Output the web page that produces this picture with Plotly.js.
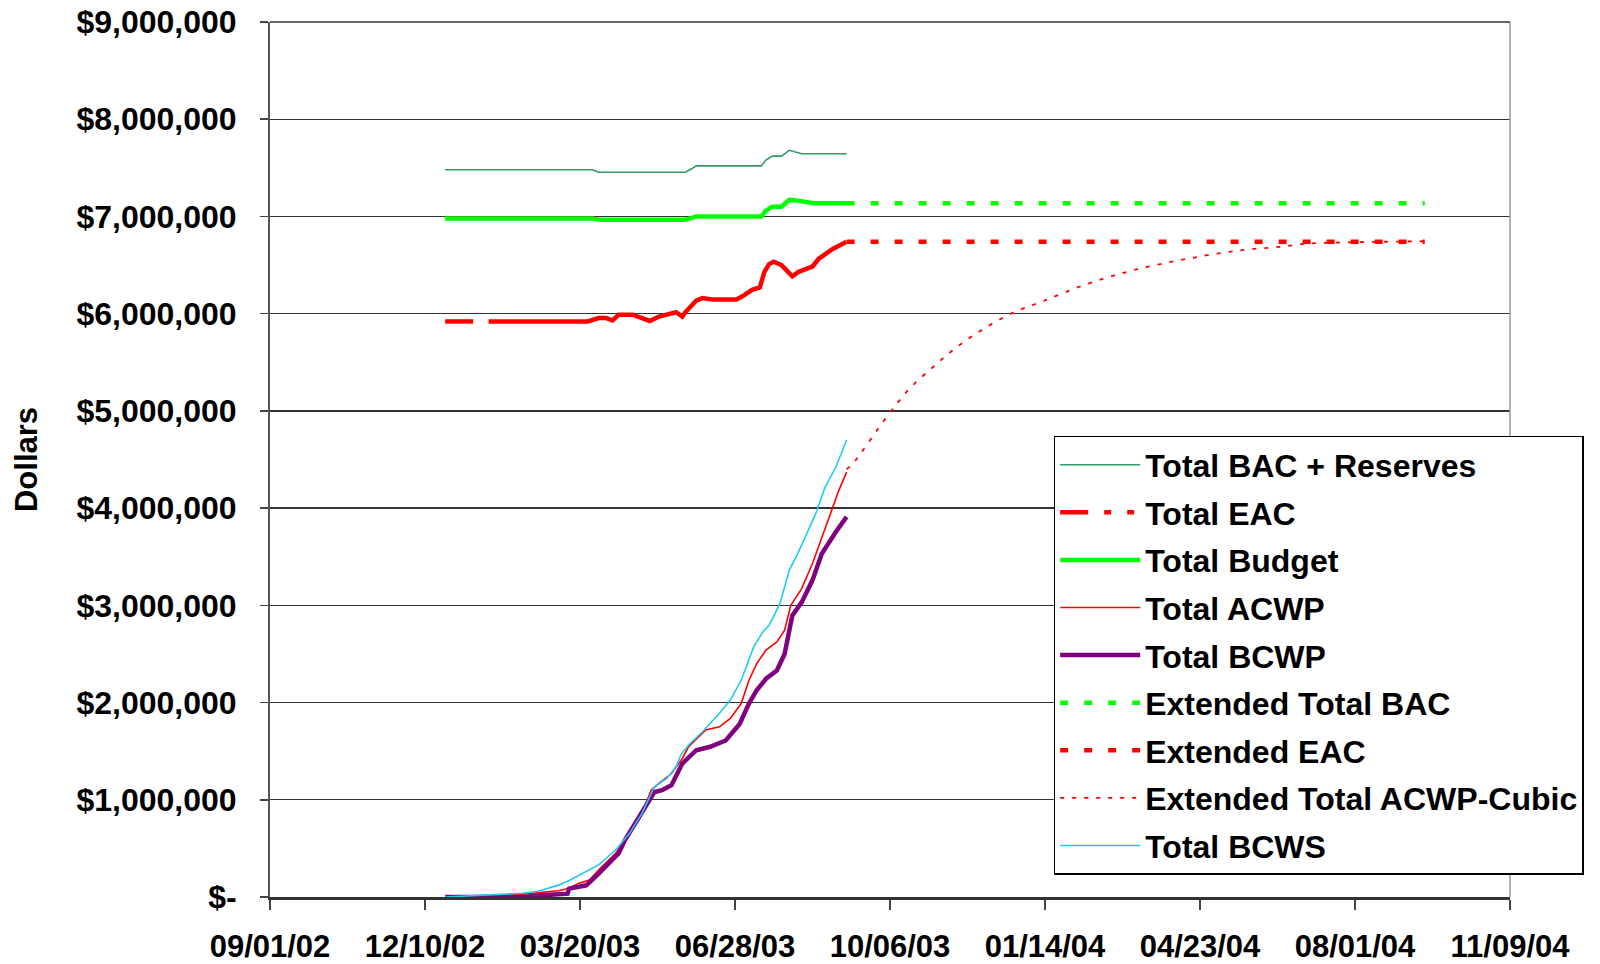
<!DOCTYPE html>
<html><head><meta charset="utf-8">
<script src="https://cdn.plot.ly/plotly-3.0.1.min.js"></script>
<style>html,body{margin:0;padding:0;background:#fff}#chart{width:1600px;height:964px}</style>
</head><body><div id="chart"></div>
<script>
// ---- data ----
const xTickDates  = ['2002-09-01','2002-12-10','2003-03-20','2003-06-28','2003-10-06','2004-01-14','2004-04-23','2004-08-01','2004-11-09'];
const xTickLabels = ['09/01/02','12/10/02','03/20/03','06/28/03','10/06/03','01/14/04','04/23/04','08/01/04','11/09/04'];
const yTickValues = [0,1000000,2000000,3000000,4000000,5000000,6000000,7000000,8000000,9000000];
const yTickLabels = ['$-','$1,000,000','$2,000,000','$3,000,000','$4,000,000','$5,000,000','$6,000,000','$7,000,000','$8,000,000','$9,000,000'];

const bacDates   = ['2002-12-23','2003-03-28','2003-04-01','2003-05-27','2003-05-31','2003-06-03','2003-07-15','2003-07-18','2003-07-22','2003-07-28','2003-08-02','2003-08-10','2003-09-08'];
const bacResValues = [7480000,7480000,7455000,7455000,7490000,7520000,7520000,7580000,7620000,7620000,7680000,7645000,7645000];

const budgetDates  = ['2002-12-23','2003-03-28','2003-04-01','2003-05-27','2003-05-31','2003-06-03','2003-07-15','2003-07-18','2003-07-22','2003-07-28','2003-08-02','2003-08-06','2003-08-18','2003-09-08'];
const budgetValues = [6980000,6980000,6965000,6965000,6985000,7000000,7000000,7060000,7100000,7100000,7170000,7165000,7135000,7135000];

const eacDates  = ['2002-12-23','2003-01-20','2003-03-25','2003-04-01','2003-04-06','2003-04-10','2003-04-14','2003-04-23','2003-05-04','2003-05-10','2003-05-21','2003-05-25','2003-05-27','2003-06-03','2003-06-07','2003-06-13','2003-06-29','2003-07-04','2003-07-09','2003-07-14','2003-07-17','2003-07-20','2003-07-23','2003-07-28','2003-07-31','2003-08-04','2003-08-08','2003-08-17','2003-08-21','2003-08-30','2003-09-08'];
const eacValues = [5920000,5920000,5920000,5955000,5955000,5930000,5990000,5990000,5925000,5970000,6015000,5970000,6015000,6135000,6160000,6145000,6145000,6190000,6245000,6270000,6430000,6510000,6535000,6500000,6450000,6385000,6430000,6485000,6565000,6665000,6740000];

const acwpDates  = ['2002-12-23','2003-02-11','2003-03-06','2003-03-13','2003-03-19','2003-03-26','2003-04-03','2003-04-12','2003-04-18','2003-04-27','2003-05-05','2003-05-10','2003-05-18','2003-05-25','2003-05-29','2003-06-09','2003-06-18','2003-06-25','2003-07-02','2003-07-07','2003-07-12','2003-07-18','2003-07-25','2003-07-30','2003-08-03','2003-08-10','2003-08-17','2003-08-23','2003-08-30','2003-09-03','2003-09-08'];
const acwpValues = [0,30000,65000,90000,140000,175000,310000,450000,585000,790000,1100000,1170000,1270000,1425000,1545000,1717000,1750000,1836000,1990000,2230000,2400000,2540000,2624000,2744000,3000000,3172000,3430000,3700000,4010000,4183000,4370000];

const bcwpDates  = ['2002-12-23','2003-02-11','2003-02-23','2003-03-12','2003-03-13','2003-03-24','2003-04-01','2003-04-09','2003-04-14','2003-04-18','2003-04-27','2003-05-07','2003-05-12','2003-05-18','2003-05-25','2003-06-03','2003-06-12','2003-06-22','2003-07-01','2003-07-07','2003-07-12','2003-07-18','2003-07-25','2003-07-30','2003-08-04','2003-08-10','2003-08-17','2003-08-23','2003-09-01','2003-09-08'];
const bcwpValues = [0,0,17000,34000,86000,120000,240000,360000,450000,585000,825000,1080000,1100000,1150000,1373000,1510000,1545000,1610000,1780000,1990000,2127000,2245000,2330000,2500000,2897000,3030000,3260000,3530000,3754000,3910000];

const bcwsDates  = ['2002-12-23','2003-02-11','2003-02-21','2003-03-06','2003-03-13','2003-03-21','2003-04-01','2003-04-12','2003-04-21','2003-04-29','2003-05-07','2003-05-15','2003-05-21','2003-05-24','2003-05-29','2003-06-07','2003-06-18','2003-06-25','2003-07-02','2003-07-10','2003-07-16','2003-07-20','2003-07-27','2003-08-02','2003-08-08','2003-08-19','2003-08-25','2003-09-01','2003-09-08'];
const bcwsValues = [0,38000,60000,122000,170000,240000,330000,483000,655000,860000,1134000,1220000,1340000,1460000,1562000,1700000,1890000,2025000,2230000,2570000,2727000,2795000,3020000,3360000,3550000,3940000,4210000,4420000,4700000];

const extBacDates  = ['2003-09-08','2004-09-15'];
const extBacValues = [7135000,7135000];
const extEacDates  = ['2003-09-08','2004-09-15'];
const extEacValues = [6740000,6740000];

const cubicDates  = ['2003-09-08','2003-09-12','2003-10-04','2003-10-19','2003-11-04','2003-11-16','2003-12-02','2003-12-23','2004-01-13','2004-02-11','2004-03-13','2004-04-15','2004-05-18','2004-06-15','2004-07-01','2004-07-31','2004-09-02','2004-09-15'];
const cubicValues = [4400000,4457000,4940000,5235000,5468000,5630000,5810000,6000000,6130000,6310000,6455000,6565000,6650000,6690000,6720000,6735000,6742000,6745000];

// ---- traces ----
const traces = [
  {name:'Total BAC + Reserves', x:bacDates, y:bacResValues, mode:'lines', legendgroup:'g1',
   line:{color:'#339966', width:1.6}},
  {name:'Total EAC', x:eacDates.slice(0,2), y:eacValues.slice(0,2), mode:'lines', legendgroup:'g2',
   line:{color:'#FF0000', width:4.5, dash:'28px,16px,7px,16px,7px,16px'}},
  {name:'Total EAC', x:eacDates.slice(1), y:eacValues.slice(1), mode:'lines', legendgroup:'g2', showlegend:false,
   line:{color:'#FF0000', width:4.5}},
  {name:'Total Budget', x:budgetDates, y:budgetValues, mode:'lines', legendgroup:'g3',
   line:{color:'#00FF00', width:4.5}},
  {name:'Total ACWP', x:acwpDates, y:acwpValues, mode:'lines', legendgroup:'g4',
   line:{color:'#FF0000', width:1.6}},
  {name:'Total BCWP', x:bcwpDates, y:bcwpValues, mode:'lines', legendgroup:'g5',
   line:{color:'#800080', width:4.5}},
  {name:'Extended Total BAC', x:extBacDates, y:extBacValues, mode:'lines', legendgroup:'g6',
   line:{color:'#00FF00', width:4.5, dash:'8px,16px'}},
  {name:'Extended EAC', x:extEacDates, y:extEacValues, mode:'lines', legendgroup:'g7',
   line:{color:'#FF0000', width:4.5, dash:'8px,16px'}},
  {name:'Extended Total ACWP-Cubic', x:cubicDates, y:cubicValues, mode:'lines', legendgroup:'g8',
   line:{color:'#FF0000', width:1.8, dash:'4px,8px', shape:'spline'}},
  {name:'Total BCWS', x:bcwsDates, y:bcwsValues, mode:'lines', legendgroup:'g9',
   line:{color:'#1ECBF5', width:1.6}}
];

const boldFont = '"Liberation Sans", Arial, sans-serif';

const layout = {
  width:1600, height:964,
  margin:{l:270, r:90, t:22, b:67},
  paper_bgcolor:'#ffffff', plot_bgcolor:'#ffffff',
  showlegend:true,
  font:{family:boldFont, color:'#000'},
  xaxis:{
    type:'date', range:['2002-09-01','2004-11-09'],
    tickmode:'array', tickvals:xTickDates, ticktext:xTickLabels,
    tickfont:{family:boldFont, size:31, weight:700, color:'#000'},
    tickangle:0,
    ticks:'outside', ticklen:10, tickwidth:1.5, tickcolor:'#444',
    ticklabelstandoff:10,
    showgrid:false, zeroline:false,
    showline:true, linecolor:'#333', linewidth:2.5
  },
  yaxis:{
    range:[0,9000000],
    tickmode:'array', tickvals:yTickValues, ticktext:yTickLabels,
    tickfont:{family:boldFont, size:32, weight:700, color:'#000'},
    ticks:'outside', ticklen:8, tickwidth:1.5, tickcolor:'#444',
    ticklabelstandoff:17,
    showgrid:true, gridcolor:'#333', gridwidth:1.3,
    zeroline:false,
    showline:true, linecolor:'#555', linewidth:2,
    title:{text:'Dollars', standoff:30,
      font:{family:boldFont, size:31, weight:700, color:'#000'}}
  },
  legend:{
    x:0.632, y:0.527, xanchor:'left', yanchor:'top',
    bgcolor:'#ffffff', bordercolor:'#000', borderwidth:1.5,
    font:{family:boldFont, size:32, weight:700, color:'#000'},
    tracegroupgap:3, itemwidth:80
  },
  shapes:[
    {type:'line', xref:'paper', yref:'paper', x0:1, x1:1, y0:0, y1:1, line:{color:'#999', width:1.5}},
    {type:'line', xref:'paper', yref:'paper', x0:0, x1:1, y0:1, y1:1, line:{color:'#333', width:1.3}}
  ]
};

Plotly.newPlot('chart', traces, layout, {displayModeBar:false, staticPlot:true});
</script></body></html>
